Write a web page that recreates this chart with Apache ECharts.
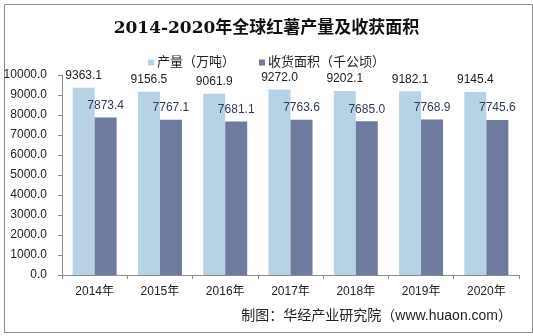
<!DOCTYPE html>
<html><head><meta charset="utf-8">
<script src="https://cdn.jsdelivr.net/npm/echarts@6/dist/echarts.min.js"></script>
<style>html,body{margin:0;padding:0;background:#fff}#c{width:533px;height:336px}</style>
</head><body><div id="c"></div>
<script>
const categories = ['2014年','2015年','2016年','2017年','2018年','2019年','2020年'];
const production = [9363.1, 9156.5, 9061.9, 9272.0, 9202.1, 9182.1, 9145.4];
const area = [7873.4, 7767.1, 7681.1, 7763.6, 7685.0, 7768.9, 7745.6];
const yTicks = [0, 1000, 2000, 3000, 4000, 5000, 6000, 7000, 8000, 9000, 10000];

const chart = echarts.init(document.getElementById('c'), null, {renderer:'canvas'});
const cjk = "'Liberation Sans', 'Noto Sans CJK SC', sans-serif";
chart.setOption({
  animation: false,
  backgroundColor: '#fff',
  graphic: [{
    type: 'rect', left: 2, top: 2,
    shape: {width: 528, height: 328},
    style: {fill: 'none', stroke: '#8c8c8c', lineWidth: 1}, silent: true
  }, {
    type: 'text', right: 21, top: 309,
    style: {text: '制图：华经产业研究院（www.huaon.com）', fill: '#222', font: "14px 'Liberation Sans', 'Noto Sans CJK SC', sans-serif"}
  }],
  title: {
    text: '2014-2020年全球红薯产量及收获面积',
    left: 'center', top: 15,
    textStyle: {fontFamily: "'DejaVu Serif', 'Noto Sans CJK SC', serif", fontWeight: 'bold', fontSize: 17, color: '#111'}
  },
  legend: {
    top: 51, left: 'center',
    itemWidth: 6, itemHeight: 6, itemGap: 24,
    icon: 'rect',
    textStyle: {fontFamily: cjk, fontSize: 13, color: '#222', padding: [0,0,0,-2]},
    data: ['产量（万吨）', '收货面积（千公顷）']
  },
  grid: {left: 62, right: 14, top: 75, bottom: 61, containLabel: false},
  xAxis: {
    type: 'category', data: categories,
    axisLine: {lineStyle: {color: '#8c8c8c'}},
    axisTick: {show: true, alignWithLabel: false, length: 4, lineStyle: {color: '#8c8c8c'}},
    axisLabel: {fontFamily: cjk, fontSize: 12, color: '#222', margin: 11}
  },
  yAxis: {
    type: 'value', min: 0, max: 10000, interval: 1000,
    axisLine: {show: true, lineStyle: {color: '#8c8c8c'}},
    axisTick: {show: true, length: 4, lineStyle: {color: '#8c8c8c'}},
    splitLine: {show: false},
    axisLabel: {fontFamily: cjk, fontSize: 12, color: '#222', margin: 15,
      formatter: v => yTicks.includes(v) ? v.toFixed(1) : ''}
  },
  series: [{
    name: '产量（万吨）', type: 'bar', data: production,
    barWidth: 22, barGap: '0%',
    itemStyle: {color: '#b7d2e4'},
    label: {show: true, position: 'top', distance: 6, fontFamily: cjk, fontSize: 12, color: '#222',
      formatter: p => p.value.toFixed(1)}
  }, {
    name: '收货面积（千公顷）', type: 'bar', data: area,
    barWidth: 22,
    itemStyle: {color: '#6f7a9f'},
    label: {show: true, position: 'top', distance: 6, fontFamily: cjk, fontSize: 12, color: '#2f3a55',
      formatter: p => p.value.toFixed(1)}
  }]
});
</script></body></html>
